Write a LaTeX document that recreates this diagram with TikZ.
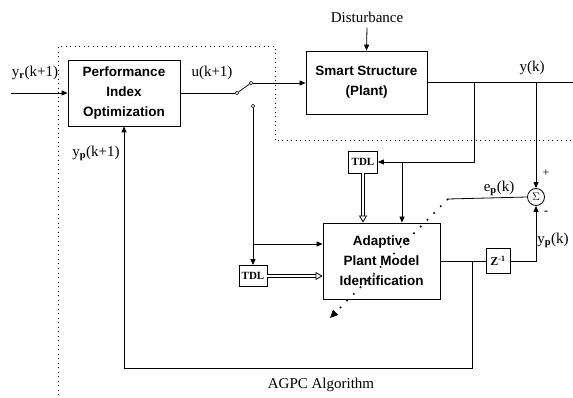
\documentclass[tikz,border=0pt]{standalone}
\usepackage{fontspec}
\setmainfont{Liberation Serif}
\newfontfamily\blocksans{Liberation Sans}
\usetikzlibrary{positioning,arrows.meta,calc}

\tikzset{
  block/.style={draw, line width=0.8pt, align=center, inner sep=0pt,
    font=\blocksans\bfseries\fontsize{13.5}{20}\selectfont},
  dly/.style={draw, line width=0.8pt, inner sep=0pt,
    font=\bfseries\fontsize{11}{12}\selectfont},
  lbl/.style={font=\fontsize{15}{17}\selectfont, inner sep=0pt},
  sig/.style={-{Triangle[length=6pt,width=5pt]}},
  bus/.style={double, double distance=2.4pt, line width=0.8pt,
    -{Triangle[open,length=7pt,width=8pt]}},
  contact/.style={circle, draw, fill=white, inner sep=0pt,
    minimum size=3.5pt, line width=0.6pt},
  border/.style={dash pattern=on 1pt off 3.5pt, line width=1pt},
}

\begin{document}
\begin{tikzpicture}[x=1pt, y=1pt, line width=0.8pt]
  \useasboundingbox (0,0) rectangle (573,-398);

  % Blocos
  \node[block, minimum width=112pt, minimum height=66pt] (perf) at (124,-93) {Performance\\Index\\Optimization};
  \node[block, minimum width=121pt, minimum height=63pt] (plant) at (366.5,-82.5) {Smart Structure\\(Plant)};
  \node[block, minimum width=117pt, minimum height=76pt] (ident) at (381.5,-261) {Adaptive\\Plant Model\\Identification};
  \node[dly, minimum width=29pt, minimum height=22pt] (tdlA) at (363,-162) {TDL};
  \node[dly, minimum width=28pt, minimum height=21pt] (tdlB) at (253,-276) {TDL};
  \node[dly, minimum width=24pt, minimum height=25pt, font=\bfseries\fontsize{12}{12}\selectfont] (zinv) at (498,-261) {Z\textsuperscript{-1}};
  \node[circle, draw, inner sep=0pt, minimum size=17pt, font=\fontsize{11}{12}\selectfont] (sum) at (536,-197) {$\Sigma$};

  % Chave
  \node[contact] (swp) at (237,-93) {};
  \node[contact] (swa) at (251,-83) {};
  \node[contact] (swb) at (253,-106) {};
  \draw (swp) -- (swa);

  % Rotulos
  \node[lbl] (yr) at (35,-73) {y\textsubscript{\textbf{r}}(k+1)};
  \node[lbl] (uk) at (212,-73) {u(k+1)};
  \node[lbl] (dist) at (367,-17) {Disturbance};
  \node[lbl] (yk) at (532,-68) {y(k)};
  \node[lbl] (ypf) at (96,-153) {y\textsubscript{\textbf{p}}(k+1)};
  \node[lbl] (epk) at (499,-188) {e\textsubscript{\textbf{p}}(k)};
  \node[lbl] (ypk) at (553,-240) {y\textsubscript{\textbf{p}}(k)};
  \node[lbl, font=\fontsize{12}{12}\selectfont] (plus) at (546,-173) {+};
  \node[lbl, font=\bfseries\fontsize{12}{12}\selectfont] (minus) at (546,-213) {-};
  \node[lbl] (agpc) at (321,-385) {AGPC Algorithm};

  % Pontos auxiliares
  \coordinate (yin) at (11,-93);
  \coordinate (yout) at (573,-82.5);
  \coordinate (b1) at (474,-82.5);
  \coordinate (b2) at (536,-82.5);
  \coordinate (b3) at (402,-162);
  \coordinate (b4) at (472,-261);
  \coordinate (b5) at (253,-244);
  \coordinate (fb) at (472,-368);
  \coordinate (ep) at (448,-199);
  \coordinate (adj) at (330,-318);

  % Ligacoes
  \draw[sig] (yin) -- (perf.west);
  \draw (perf.east) -- (swp);
  \draw[sig] (swa) -- (swa -| plant.west);
  \draw[sig] ([yshift=-5pt]dist.south) -- (plant.north);
  \draw (plant.east) -- (yout);
  \draw[sig] (b1) |- (tdlA.east);
  \draw[sig] (b3) -- (b3 |- ident.north);
  \draw[bus] (tdlA.south) -- (tdlA.south |- ident.north);
  \draw[sig] (b2) -- (sum.north);
  \draw (sum.west) -- (ep);
  \draw[line width=1.6pt, dash pattern=on 1.5pt off 8pt, -{Triangle[length=8pt,width=7pt]}] (ep) -- (adj);
  \draw (ident.east) -- (zinv.west);
  \draw[sig] (zinv.east) -| (sum.south);
  \draw[sig] (b4) -- (fb) -| (perf.south);
  \draw[sig] (swb) -- (tdlB.north);
  \draw[sig] (b5) -- (b5 -| ident.west);
  \draw[bus] (tdlB.east) -- (tdlB.east -| ident.west);

  % Fronteira
  \draw[border] (58,-395) -- (58,-47) -- (275,-47) -- (275,-141) -- (573,-141);
\end{tikzpicture}
\end{document}
